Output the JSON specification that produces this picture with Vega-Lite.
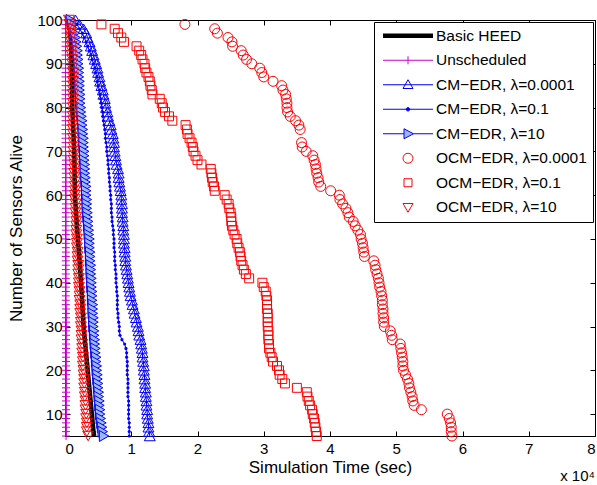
{
 "$schema": "https://vega.github.io/schema/vega-lite/v6.json",
 "width": 530, "height": 416,
 "autosize": {"type": "none"},
 "padding": {"left": 65, "top": 20, "right": 2, "bottom": 49},
 "background": "white",
 "config": {
  "font": "Liberation Sans",
  "view": {"stroke": "black", "strokeWidth": 1},
  "axis": {"grid": false, "domainColor": "black", "tickColor": "black", "labelColor": "black", "titleColor": "black", "labelFontSize": 15, "titleFontSize": 17, "titleFontWeight": "normal", "tickSize": -5, "labelFont": "Liberation Sans", "titleFont": "Liberation Sans"}
 },
 "title": {"text": "x 10⁴", "orient": "bottom", "anchor": "end", "frame": "group", "fontSize": 15, "fontWeight": "normal", "offset": -6, "color": "black", "font": "Liberation Sans"},
 "data": {"values": [
  {"s":"a","x":0.06,"y":100},{"s":"a","x":0.09,"y":95},{"s":"a","x":0.10,"y":90},{"s":"a","x":0.11,"y":80},{"s":"a","x":0.14,"y":70},{"s":"a","x":0.15,"y":60},{"s":"a","x":0.18,"y":53},{"s":"a","x":0.22,"y":45},{"s":"a","x":0.25,"y":38},{"s":"a","x":0.28,"y":30},{"s":"a","x":0.33,"y":22},{"s":"a","x":0.38,"y":14},{"s":"a","x":0.43,"y":6},{"s":"a","x":0.44,"y":5},
  {"s":"b","x":0.008,"y":100},{"s":"b","x":0.008,"y":99},{"s":"b","x":0.008,"y":98},{"s":"b","x":0.008,"y":97},{"s":"b","x":0.008,"y":96},{"s":"b","x":0.008,"y":95},{"s":"b","x":0.008,"y":94},{"s":"b","x":0.008,"y":93},{"s":"b","x":0.008,"y":92},{"s":"b","x":0.008,"y":91},{"s":"b","x":0.008,"y":90},{"s":"b","x":0.008,"y":89},{"s":"b","x":0.008,"y":88},{"s":"b","x":0.008,"y":87},{"s":"b","x":0.008,"y":86},{"s":"b","x":0.008,"y":85},{"s":"b","x":0.008,"y":84},{"s":"b","x":0.008,"y":83},{"s":"b","x":0.008,"y":82},{"s":"b","x":0.008,"y":81},{"s":"b","x":0.008,"y":80},{"s":"b","x":0.008,"y":79},{"s":"b","x":0.008,"y":78},{"s":"b","x":0.008,"y":77},{"s":"b","x":0.008,"y":76},{"s":"b","x":0.008,"y":75},{"s":"b","x":0.008,"y":74},{"s":"b","x":0.008,"y":73},{"s":"b","x":0.008,"y":72},{"s":"b","x":0.008,"y":71},{"s":"b","x":0.008,"y":70},
  {"s":"b","x":0.012,"y":69},{"s":"b","x":0.012,"y":68},{"s":"b","x":0.012,"y":67},{"s":"b","x":0.012,"y":66},{"s":"b","x":0.012,"y":65},{"s":"b","x":0.012,"y":64},{"s":"b","x":0.012,"y":63},{"s":"b","x":0.012,"y":62},{"s":"b","x":0.012,"y":61},{"s":"b","x":0.012,"y":60},{"s":"b","x":0.012,"y":59},{"s":"b","x":0.012,"y":58},{"s":"b","x":0.012,"y":57},{"s":"b","x":0.012,"y":56},{"s":"b","x":0.012,"y":55},{"s":"b","x":0.012,"y":54},{"s":"b","x":0.012,"y":53},{"s":"b","x":0.012,"y":52},{"s":"b","x":0.012,"y":51},{"s":"b","x":0.012,"y":50},{"s":"b","x":0.012,"y":49},{"s":"b","x":0.012,"y":48},{"s":"b","x":0.012,"y":47},{"s":"b","x":0.012,"y":46},{"s":"b","x":0.012,"y":45},{"s":"b","x":0.012,"y":44},{"s":"b","x":0.012,"y":43},{"s":"b","x":0.012,"y":42},{"s":"b","x":0.012,"y":41},{"s":"b","x":0.012,"y":40},{"s":"b","x":0.012,"y":39},{"s":"b","x":0.012,"y":38},{"s":"b","x":0.012,"y":37},{"s":"b","x":0.012,"y":36},{"s":"b","x":0.012,"y":35},
  {"s":"b","x":0.016,"y":34},{"s":"b","x":0.016,"y":33},{"s":"b","x":0.016,"y":32},{"s":"b","x":0.016,"y":31},{"s":"b","x":0.016,"y":30},{"s":"b","x":0.016,"y":29},{"s":"b","x":0.016,"y":28},{"s":"b","x":0.016,"y":27},{"s":"b","x":0.016,"y":26},{"s":"b","x":0.016,"y":25},{"s":"b","x":0.016,"y":24},{"s":"b","x":0.016,"y":23},{"s":"b","x":0.016,"y":22},{"s":"b","x":0.016,"y":21},{"s":"b","x":0.016,"y":20},{"s":"b","x":0.016,"y":19},{"s":"b","x":0.016,"y":18},{"s":"b","x":0.016,"y":17},{"s":"b","x":0.016,"y":16},{"s":"b","x":0.016,"y":15},{"s":"b","x":0.016,"y":14},{"s":"b","x":0.016,"y":13},{"s":"b","x":0.016,"y":12},{"s":"b","x":0.016,"y":11},{"s":"b","x":0.016,"y":10},{"s":"b","x":0.016,"y":9},{"s":"b","x":0.016,"y":8},{"s":"b","x":0.016,"y":7},{"s":"b","x":0.016,"y":6},{"s":"b","x":0.016,"y":5},
  {"s":"c","x":0.16,"y":100},{"s":"c","x":0.22,"y":99},{"s":"c","x":0.28,"y":98},{"s":"c","x":0.32,"y":97},{"s":"c","x":0.34,"y":96},{"s":"c","x":0.37,"y":95},{"s":"c","x":0.39,"y":94},{"s":"c","x":0.41,"y":93},{"s":"c","x":0.43,"y":92},{"s":"c","x":0.45,"y":91},{"s":"c","x":0.47,"y":90},{"s":"c","x":0.49,"y":89},{"s":"c","x":0.50,"y":88},{"s":"c","x":0.52,"y":87},{"s":"c","x":0.53,"y":86},{"s":"c","x":0.55,"y":85},{"s":"c","x":0.57,"y":84},{"s":"c","x":0.58,"y":83},{"s":"c","x":0.60,"y":82},{"s":"c","x":0.61,"y":81},{"s":"c","x":0.62,"y":80},{"s":"c","x":0.64,"y":79},{"s":"c","x":0.65,"y":78},{"s":"c","x":0.67,"y":77},{"s":"c","x":0.69,"y":76},{"s":"c","x":0.70,"y":75},{"s":"c","x":0.72,"y":74},{"s":"c","x":0.73,"y":73},{"s":"c","x":0.74,"y":72},{"s":"c","x":0.74,"y":71},{"s":"c","x":0.75,"y":70},{"s":"c","x":0.76,"y":69},{"s":"c","x":0.77,"y":68},{"s":"c","x":0.78,"y":67},{"s":"c","x":0.80,"y":66},{"s":"c","x":0.81,"y":65},{"s":"c","x":0.81,"y":64},{"s":"c","x":0.82,"y":63},{"s":"c","x":0.83,"y":62},{"s":"c","x":0.84,"y":61},{"s":"c","x":0.85,"y":60},{"s":"c","x":0.85,"y":59},{"s":"c","x":0.86,"y":58},{"s":"c","x":0.86,"y":57},{"s":"c","x":0.86,"y":56},{"s":"c","x":0.87,"y":55},{"s":"c","x":0.87,"y":54},{"s":"c","x":0.88,"y":53},{"s":"c","x":0.88,"y":52},{"s":"c","x":0.89,"y":51},{"s":"c","x":0.89,"y":50},{"s":"c","x":0.89,"y":49},{"s":"c","x":0.90,"y":48},{"s":"c","x":0.90,"y":47},{"s":"c","x":0.91,"y":46},{"s":"c","x":0.91,"y":45},{"s":"c","x":0.92,"y":44},{"s":"c","x":0.93,"y":43},{"s":"c","x":0.94,"y":42},{"s":"c","x":0.95,"y":41},{"s":"c","x":0.96,"y":40},{"s":"c","x":0.97,"y":39},{"s":"c","x":0.98,"y":38},{"s":"c","x":0.99,"y":37},{"s":"c","x":1.01,"y":36},{"s":"c","x":1.02,"y":35},{"s":"c","x":1.04,"y":34},{"s":"c","x":1.05,"y":33},{"s":"c","x":1.07,"y":32},{"s":"c","x":1.08,"y":31},{"s":"c","x":1.10,"y":30},{"s":"c","x":1.11,"y":29},{"s":"c","x":1.12,"y":28},{"s":"c","x":1.14,"y":27},{"s":"c","x":1.15,"y":26},{"s":"c","x":1.16,"y":25},{"s":"c","x":1.17,"y":24},{"s":"c","x":1.17,"y":23},{"s":"c","x":1.18,"y":22},{"s":"c","x":1.19,"y":21},{"s":"c","x":1.19,"y":20},{"s":"c","x":1.20,"y":19},{"s":"c","x":1.20,"y":18},{"s":"c","x":1.21,"y":17},{"s":"c","x":1.21,"y":16},{"s":"c","x":1.22,"y":15},{"s":"c","x":1.22,"y":14},{"s":"c","x":1.23,"y":13},{"s":"c","x":1.23,"y":12},{"s":"c","x":1.24,"y":11},{"s":"c","x":1.24,"y":10},{"s":"c","x":1.25,"y":9},{"s":"c","x":1.26,"y":8},{"s":"c","x":1.26,"y":7},{"s":"c","x":1.27,"y":6},{"s":"c","x":1.28,"y":5},
  {"s":"d","x":0.14,"y":100},{"s":"d","x":0.18,"y":99},{"s":"d","x":0.22,"y":98},{"s":"d","x":0.26,"y":97},{"s":"d","x":0.29,"y":96},{"s":"d","x":0.32,"y":95},{"s":"d","x":0.34,"y":94},{"s":"d","x":0.37,"y":93},{"s":"d","x":0.39,"y":92},{"s":"d","x":0.41,"y":91},{"s":"d","x":0.43,"y":90},{"s":"d","x":0.45,"y":89},{"s":"d","x":0.46,"y":88},{"s":"d","x":0.48,"y":87},{"s":"d","x":0.49,"y":86},{"s":"d","x":0.50,"y":85},{"s":"d","x":0.52,"y":84},{"s":"d","x":0.53,"y":83},{"s":"d","x":0.54,"y":82},{"s":"d","x":0.55,"y":81},{"s":"d","x":0.56,"y":80},{"s":"d","x":0.57,"y":79},{"s":"d","x":0.57,"y":78},{"s":"d","x":0.58,"y":77},{"s":"d","x":0.59,"y":76},{"s":"d","x":0.60,"y":75},{"s":"d","x":0.61,"y":74},{"s":"d","x":0.61,"y":73},{"s":"d","x":0.62,"y":72},{"s":"d","x":0.63,"y":71},{"s":"d","x":0.63,"y":70},{"s":"d","x":0.64,"y":69},{"s":"d","x":0.65,"y":68},{"s":"d","x":0.65,"y":67},{"s":"d","x":0.66,"y":66},{"s":"d","x":0.66,"y":65},{"s":"d","x":0.67,"y":64},{"s":"d","x":0.67,"y":63},{"s":"d","x":0.68,"y":62},{"s":"d","x":0.68,"y":61},{"s":"d","x":0.69,"y":60},{"s":"d","x":0.69,"y":59},{"s":"d","x":0.70,"y":58},{"s":"d","x":0.70,"y":57},{"s":"d","x":0.70,"y":56},{"s":"d","x":0.71,"y":55},{"s":"d","x":0.71,"y":54},{"s":"d","x":0.72,"y":53},{"s":"d","x":0.73,"y":52},{"s":"d","x":0.73,"y":51},{"s":"d","x":0.74,"y":50},{"s":"d","x":0.74,"y":49},{"s":"d","x":0.74,"y":48},{"s":"d","x":0.75,"y":47},{"s":"d","x":0.75,"y":46},{"s":"d","x":0.75,"y":45},{"s":"d","x":0.76,"y":44},{"s":"d","x":0.76,"y":43},{"s":"d","x":0.77,"y":42},{"s":"d","x":0.77,"y":41},{"s":"d","x":0.77,"y":40},{"s":"d","x":0.78,"y":39},{"s":"d","x":0.78,"y":38},{"s":"d","x":0.79,"y":37},{"s":"d","x":0.79,"y":36},{"s":"d","x":0.79,"y":35},{"s":"d","x":0.79,"y":34},{"s":"d","x":0.80,"y":33},{"s":"d","x":0.80,"y":32},{"s":"d","x":0.81,"y":31},{"s":"d","x":0.82,"y":30},{"s":"d","x":0.82,"y":29},{"s":"d","x":0.83,"y":28},{"s":"d","x":0.86,"y":27},{"s":"d","x":0.90,"y":26},{"s":"d","x":0.92,"y":25},{"s":"d","x":0.93,"y":24},{"s":"d","x":0.93,"y":23},{"s":"d","x":0.94,"y":22},{"s":"d","x":0.94,"y":21},{"s":"d","x":0.94,"y":20},{"s":"d","x":0.94,"y":19},{"s":"d","x":0.95,"y":18},{"s":"d","x":0.95,"y":17},{"s":"d","x":0.95,"y":16},{"s":"d","x":0.95,"y":15},{"s":"d","x":0.95,"y":14},{"s":"d","x":0.96,"y":13},{"s":"d","x":0.96,"y":12},{"s":"d","x":0.96,"y":11},{"s":"d","x":0.96,"y":10},{"s":"d","x":0.96,"y":9},{"s":"d","x":0.97,"y":8},{"s":"d","x":0.97,"y":7},{"s":"d","x":0.97,"y":6},{"s":"d","x":0.97,"y":5},
  {"s":"e","x":0.09,"y":100},{"s":"e","x":0.11,"y":99},{"s":"e","x":0.13,"y":98},{"s":"e","x":0.15,"y":97},{"s":"e","x":0.16,"y":96},{"s":"e","x":0.17,"y":95},{"s":"e","x":0.18,"y":94},{"s":"e","x":0.19,"y":93},{"s":"e","x":0.19,"y":92},{"s":"e","x":0.20,"y":91},{"s":"e","x":0.20,"y":90},{"s":"e","x":0.21,"y":89},{"s":"e","x":0.21,"y":88},{"s":"e","x":0.21,"y":87},{"s":"e","x":0.22,"y":86},{"s":"e","x":0.22,"y":85},{"s":"e","x":0.22,"y":84},{"s":"e","x":0.23,"y":83},{"s":"e","x":0.23,"y":82},{"s":"e","x":0.23,"y":81},{"s":"e","x":0.24,"y":80},{"s":"e","x":0.24,"y":79},{"s":"e","x":0.25,"y":78},{"s":"e","x":0.26,"y":77},{"s":"e","x":0.26,"y":76},{"s":"e","x":0.27,"y":75},{"s":"e","x":0.27,"y":74},{"s":"e","x":0.28,"y":73},{"s":"e","x":0.28,"y":72},{"s":"e","x":0.28,"y":71},{"s":"e","x":0.29,"y":70},{"s":"e","x":0.29,"y":69},{"s":"e","x":0.29,"y":68},{"s":"e","x":0.30,"y":67},{"s":"e","x":0.30,"y":66},{"s":"e","x":0.30,"y":65},{"s":"e","x":0.31,"y":64},{"s":"e","x":0.31,"y":63},{"s":"e","x":0.32,"y":62},{"s":"e","x":0.32,"y":61},{"s":"e","x":0.32,"y":60},{"s":"e","x":0.33,"y":59},{"s":"e","x":0.33,"y":58},{"s":"e","x":0.33,"y":57},{"s":"e","x":0.34,"y":56},{"s":"e","x":0.34,"y":55},{"s":"e","x":0.35,"y":54},{"s":"e","x":0.35,"y":53},{"s":"e","x":0.36,"y":52},{"s":"e","x":0.36,"y":51},{"s":"e","x":0.37,"y":50},{"s":"e","x":0.37,"y":49},{"s":"e","x":0.37,"y":48},{"s":"e","x":0.38,"y":47},{"s":"e","x":0.38,"y":46},{"s":"e","x":0.38,"y":45},{"s":"e","x":0.39,"y":44},{"s":"e","x":0.39,"y":43},{"s":"e","x":0.39,"y":42},{"s":"e","x":0.40,"y":41},{"s":"e","x":0.40,"y":40},{"s":"e","x":0.40,"y":39},{"s":"e","x":0.41,"y":38},{"s":"e","x":0.41,"y":37},{"s":"e","x":0.41,"y":36},{"s":"e","x":0.42,"y":35},{"s":"e","x":0.42,"y":34},{"s":"e","x":0.42,"y":33},{"s":"e","x":0.43,"y":32},{"s":"e","x":0.43,"y":31},{"s":"e","x":0.43,"y":30},{"s":"e","x":0.44,"y":29},{"s":"e","x":0.44,"y":28},{"s":"e","x":0.45,"y":27},{"s":"e","x":0.45,"y":26},{"s":"e","x":0.46,"y":25},{"s":"e","x":0.46,"y":24},{"s":"e","x":0.47,"y":23},{"s":"e","x":0.47,"y":22},{"s":"e","x":0.48,"y":21},{"s":"e","x":0.48,"y":20},{"s":"e","x":0.49,"y":19},{"s":"e","x":0.49,"y":18},{"s":"e","x":0.50,"y":17},{"s":"e","x":0.50,"y":16},{"s":"e","x":0.51,"y":15},{"s":"e","x":0.51,"y":14},{"s":"e","x":0.52,"y":13},{"s":"e","x":0.52,"y":12},{"s":"e","x":0.53,"y":11},{"s":"e","x":0.53,"y":10},{"s":"e","x":0.54,"y":9},{"s":"e","x":0.55,"y":8},{"s":"e","x":0.56,"y":7},{"s":"e","x":0.57,"y":6},{"s":"e","x":0.59,"y":5},
  {"s":"f","x":1.81,"y":99},{"s":"f","x":2.26,"y":98},{"s":"f","x":2.30,"y":97},{"s":"f","x":2.46,"y":96},{"s":"f","x":2.52,"y":95},{"s":"f","x":2.53,"y":94},{"s":"f","x":2.66,"y":93},{"s":"f","x":2.69,"y":92},{"s":"f","x":2.74,"y":91},{"s":"f","x":2.82,"y":90},{"s":"f","x":2.94,"y":89},{"s":"f","x":2.97,"y":88},{"s":"f","x":3.00,"y":87},{"s":"f","x":3.14,"y":86},{"s":"f","x":3.27,"y":85},{"s":"f","x":3.29,"y":84},{"s":"f","x":3.33,"y":83},{"s":"f","x":3.34,"y":82},{"s":"f","x":3.35,"y":81},{"s":"f","x":3.35,"y":80},{"s":"f","x":3.36,"y":79},{"s":"f","x":3.40,"y":78},{"s":"f","x":3.48,"y":77},{"s":"f","x":3.53,"y":76},{"s":"f","x":3.55,"y":75},{"s":"f","x":3.57,"y":72},{"s":"f","x":3.58,"y":71},{"s":"f","x":3.64,"y":70},{"s":"f","x":3.74,"y":69},{"s":"f","x":3.76,"y":68},{"s":"f","x":3.78,"y":67},{"s":"f","x":3.79,"y":66},{"s":"f","x":3.80,"y":65},{"s":"f","x":3.82,"y":64},{"s":"f","x":3.83,"y":63},{"s":"f","x":3.86,"y":62},{"s":"f","x":4.01,"y":61},{"s":"f","x":4.14,"y":60},{"s":"f","x":4.15,"y":59},{"s":"f","x":4.19,"y":58},{"s":"f","x":4.24,"y":57},{"s":"f","x":4.27,"y":56},{"s":"f","x":4.29,"y":55},{"s":"f","x":4.35,"y":54},{"s":"f","x":4.38,"y":53},{"s":"f","x":4.42,"y":52},{"s":"f","x":4.46,"y":51},{"s":"f","x":4.47,"y":50},{"s":"f","x":4.49,"y":49},{"s":"f","x":4.50,"y":48},{"s":"f","x":4.51,"y":47},{"s":"f","x":4.52,"y":46},{"s":"f","x":4.66,"y":45},{"s":"f","x":4.68,"y":44},{"s":"f","x":4.69,"y":43},{"s":"f","x":4.71,"y":42},{"s":"f","x":4.73,"y":41},{"s":"f","x":4.74,"y":40},{"s":"f","x":4.75,"y":39},{"s":"f","x":4.77,"y":38},{"s":"f","x":4.78,"y":37},{"s":"f","x":4.79,"y":36},{"s":"f","x":4.79,"y":35},{"s":"f","x":4.80,"y":34},{"s":"f","x":4.80,"y":33},{"s":"f","x":4.81,"y":32},{"s":"f","x":4.81,"y":31},{"s":"f","x":4.82,"y":30},{"s":"f","x":4.91,"y":29},{"s":"f","x":4.93,"y":28},{"s":"f","x":4.94,"y":27},{"s":"f","x":5.06,"y":26},{"s":"f","x":5.07,"y":25},{"s":"f","x":5.08,"y":24},{"s":"f","x":5.09,"y":23},{"s":"f","x":5.10,"y":22},{"s":"f","x":5.10,"y":21},{"s":"f","x":5.11,"y":20},{"s":"f","x":5.14,"y":19},{"s":"f","x":5.17,"y":18},{"s":"f","x":5.19,"y":17},{"s":"f","x":5.20,"y":16},{"s":"f","x":5.22,"y":15},{"s":"f","x":5.24,"y":14},{"s":"f","x":5.25,"y":13},{"s":"f","x":5.27,"y":12},{"s":"f","x":5.38,"y":11},{"s":"f","x":5.77,"y":10},{"s":"f","x":5.80,"y":9},{"s":"f","x":5.82,"y":8},{"s":"f","x":5.83,"y":7},{"s":"f","x":5.83,"y":6},{"s":"f","x":5.84,"y":5},
  {"s":"g","x":0.55,"y":99},{"s":"g","x":0.75,"y":98},{"s":"g","x":0.80,"y":97},{"s":"g","x":0.85,"y":96},{"s":"g","x":0.89,"y":95},{"s":"g","x":1.08,"y":94},{"s":"g","x":1.12,"y":93},{"s":"g","x":1.15,"y":92},{"s":"g","x":1.17,"y":91},{"s":"g","x":1.20,"y":90},{"s":"g","x":1.21,"y":89},{"s":"g","x":1.23,"y":88},{"s":"g","x":1.26,"y":87},{"s":"g","x":1.28,"y":86},{"s":"g","x":1.29,"y":85},{"s":"g","x":1.31,"y":84},{"s":"g","x":1.32,"y":83},{"s":"g","x":1.43,"y":82},{"s":"g","x":1.46,"y":81},{"s":"g","x":1.48,"y":80},{"s":"g","x":1.51,"y":79},{"s":"g","x":1.57,"y":78},{"s":"g","x":1.62,"y":77},{"s":"g","x":1.82,"y":76},{"s":"g","x":1.84,"y":75},{"s":"g","x":1.85,"y":74},{"s":"g","x":1.88,"y":73},{"s":"g","x":1.91,"y":72},{"s":"g","x":1.93,"y":71},{"s":"g","x":1.94,"y":70},{"s":"g","x":1.97,"y":69},{"s":"g","x":2.00,"y":68},{"s":"g","x":2.06,"y":67},{"s":"g","x":2.20,"y":66},{"s":"g","x":2.21,"y":65},{"s":"g","x":2.22,"y":64},{"s":"g","x":2.23,"y":63},{"s":"g","x":2.25,"y":62},{"s":"g","x":2.26,"y":61},{"s":"g","x":2.41,"y":60},{"s":"g","x":2.44,"y":59},{"s":"g","x":2.47,"y":58},{"s":"g","x":2.48,"y":57},{"s":"g","x":2.50,"y":56},{"s":"g","x":2.51,"y":55},{"s":"g","x":2.51,"y":54},{"s":"g","x":2.52,"y":53},{"s":"g","x":2.54,"y":52},{"s":"g","x":2.56,"y":51},{"s":"g","x":2.59,"y":50},{"s":"g","x":2.60,"y":49},{"s":"g","x":2.62,"y":48},{"s":"g","x":2.64,"y":47},{"s":"g","x":2.65,"y":46},{"s":"g","x":2.66,"y":45},{"s":"g","x":2.68,"y":44},{"s":"g","x":2.70,"y":43},{"s":"g","x":2.73,"y":42},{"s":"g","x":2.78,"y":41},{"s":"g","x":2.98,"y":40},{"s":"g","x":3.00,"y":39},{"s":"g","x":3.03,"y":38},{"s":"g","x":3.04,"y":37},{"s":"g","x":3.05,"y":36},{"s":"g","x":3.05,"y":35},{"s":"g","x":3.05,"y":34},{"s":"g","x":3.06,"y":33},{"s":"g","x":3.06,"y":32},{"s":"g","x":3.06,"y":31},{"s":"g","x":3.06,"y":30},{"s":"g","x":3.07,"y":29},{"s":"g","x":3.07,"y":28},{"s":"g","x":3.07,"y":27},{"s":"g","x":3.08,"y":26},{"s":"g","x":3.08,"y":25},{"s":"g","x":3.10,"y":24},{"s":"g","x":3.12,"y":23},{"s":"g","x":3.14,"y":22},{"s":"g","x":3.20,"y":21},{"s":"g","x":3.23,"y":20},{"s":"g","x":3.24,"y":19},{"s":"g","x":3.28,"y":18},{"s":"g","x":3.32,"y":17},{"s":"g","x":3.50,"y":16},{"s":"g","x":3.65,"y":15},{"s":"g","x":3.66,"y":14},{"s":"g","x":3.68,"y":13},{"s":"g","x":3.70,"y":12},{"s":"g","x":3.73,"y":11},{"s":"g","x":3.74,"y":10},{"s":"g","x":3.76,"y":9},{"s":"g","x":3.77,"y":8},{"s":"g","x":3.78,"y":7},{"s":"g","x":3.79,"y":6},{"s":"g","x":3.80,"y":5},
  {"s":"h","x":0.06,"y":100},{"s":"h","x":0.07,"y":99},{"s":"h","x":0.08,"y":98},{"s":"h","x":0.08,"y":97},{"s":"h","x":0.09,"y":96},{"s":"h","x":0.09,"y":95},{"s":"h","x":0.10,"y":94},{"s":"h","x":0.10,"y":93},{"s":"h","x":0.10,"y":92},{"s":"h","x":0.11,"y":91},{"s":"h","x":0.11,"y":90},{"s":"h","x":0.11,"y":89},{"s":"h","x":0.12,"y":88},{"s":"h","x":0.12,"y":87},{"s":"h","x":0.12,"y":86},{"s":"h","x":0.12,"y":85},{"s":"h","x":0.12,"y":84},{"s":"h","x":0.12,"y":83},{"s":"h","x":0.12,"y":82},{"s":"h","x":0.12,"y":81},{"s":"h","x":0.12,"y":80},{"s":"h","x":0.12,"y":79},{"s":"h","x":0.12,"y":78},{"s":"h","x":0.12,"y":77},{"s":"h","x":0.12,"y":76},{"s":"h","x":0.12,"y":75},{"s":"h","x":0.12,"y":74},{"s":"h","x":0.12,"y":73},{"s":"h","x":0.13,"y":72},{"s":"h","x":0.13,"y":71},{"s":"h","x":0.13,"y":70},{"s":"h","x":0.13,"y":69},{"s":"h","x":0.13,"y":68},{"s":"h","x":0.14,"y":67},{"s":"h","x":0.14,"y":66},{"s":"h","x":0.14,"y":65},{"s":"h","x":0.14,"y":64},{"s":"h","x":0.15,"y":63},{"s":"h","x":0.15,"y":62},{"s":"h","x":0.15,"y":61},{"s":"h","x":0.15,"y":60},{"s":"h","x":0.15,"y":59},{"s":"h","x":0.16,"y":58},{"s":"h","x":0.16,"y":57},{"s":"h","x":0.16,"y":56},{"s":"h","x":0.17,"y":55},{"s":"h","x":0.17,"y":54},{"s":"h","x":0.17,"y":53},{"s":"h","x":0.17,"y":52},{"s":"h","x":0.17,"y":51},{"s":"h","x":0.18,"y":50},{"s":"h","x":0.18,"y":49},{"s":"h","x":0.18,"y":48},{"s":"h","x":0.19,"y":47},{"s":"h","x":0.19,"y":46},{"s":"h","x":0.19,"y":45},{"s":"h","x":0.20,"y":44},{"s":"h","x":0.20,"y":43},{"s":"h","x":0.20,"y":42},{"s":"h","x":0.21,"y":41},{"s":"h","x":0.21,"y":40},{"s":"h","x":0.21,"y":39},{"s":"h","x":0.22,"y":38},{"s":"h","x":0.22,"y":37},{"s":"h","x":0.22,"y":36},{"s":"h","x":0.23,"y":35},{"s":"h","x":0.23,"y":34},{"s":"h","x":0.23,"y":33},{"s":"h","x":0.24,"y":32},{"s":"h","x":0.24,"y":31},{"s":"h","x":0.24,"y":30},{"s":"h","x":0.25,"y":29},{"s":"h","x":0.25,"y":28},{"s":"h","x":0.25,"y":27},{"s":"h","x":0.26,"y":26},{"s":"h","x":0.26,"y":25},{"s":"h","x":0.26,"y":24},{"s":"h","x":0.27,"y":23},{"s":"h","x":0.27,"y":22},{"s":"h","x":0.27,"y":21},{"s":"h","x":0.28,"y":20},{"s":"h","x":0.28,"y":19},{"s":"h","x":0.29,"y":18},{"s":"h","x":0.29,"y":17},{"s":"h","x":0.29,"y":16},{"s":"h","x":0.30,"y":15},{"s":"h","x":0.30,"y":14},{"s":"h","x":0.31,"y":13},{"s":"h","x":0.31,"y":12},{"s":"h","x":0.31,"y":11},{"s":"h","x":0.32,"y":10},{"s":"h","x":0.32,"y":9},{"s":"h","x":0.33,"y":8},{"s":"h","x":0.33,"y":7},{"s":"h","x":0.33,"y":6},{"s":"h","x":0.35,"y":5}
 ]},
 "layer": [
  {
   "transform": [{"filter": "datum.s == 'a'"}],
   "mark": {"type": "line", "strokeWidth": 4.5},
   "encoding": {
    "x": {"field": "x", "type": "quantitative", "scale": {"domain": [0, 8], "nice": false}, "axis": {"orient": "bottom", "values": [0,1,2,3,4,5,6,7,8], "format": "d", "title": "Simulation Time (sec)", "labelPadding": 10, "titlePadding": 3}},
    "y": {"field": "y", "type": "quantitative", "scale": {"domain": [5, 100], "nice": false, "zero": false}, "axis": {"orient": "left", "values": [10,20,30,40,50,60,70,80,90,100], "title": "Number of Sensors Alive", "labelPadding": 8, "titlePadding": 11}},
    "order": {"field": "y", "sort": "descending"},
    "color": {"field": "s", "type": "nominal",
     "scale": {"domain": ["a","b","c","d","e","f","g","h"], "range": ["black","#cc00cc","blue","blue","blue","red","red","red"]},
     "legend": {
      "orient": "top-right", "offset": 2, "title": null, "padding": 6,
      "strokeColor": "black", "fillColor": "white",
      "labelFontSize": 15.5, "labelFont": "Liberation Sans", "labelColor": "black",
      "rowPadding": 7.5, "symbolSize": 100, "labelOffset": 4,
      "labelExpr": "['Basic HEED','Unscheduled','CM−EDR, λ=0.0001','CM−EDR, λ=0.1','CM−EDR, λ=10','OCM−EDR, λ=0.0001','OCM−EDR, λ=0.1','OCM−EDR, λ=10'][indexof('abcdefgh', datum.value)]",
      "encode": {
       "symbols": {"update": {
        "shape": {"signal": "['M-1,0L1,0','M-1,0L1,0M0,-0.16L0,0.16','M-1,0L1,0M0,-0.2L0.2,0.15L-0.2,0.15Z','M-1,0L1,0M0.07,0A0.07,0.07,0,1,1,-0.07,0A0.07,0.07,0,1,1,0.07,0Z','M-1,0L-0.16,0M0.22,0L1,0M-0.16,-0.2L0.22,0L-0.16,0.2Z','M0.2,0A0.2,0.2,0,1,1,-0.2,0A0.2,0.2,0,1,1,0.2,0Z','M-0.16,-0.16L0.16,-0.16L0.16,0.16L-0.16,0.16Z','M-0.2,-0.15L0.2,-0.15L0,0.2Z'][indexof('abcdefgh', datum.value)]"},
        "size": {"value": 2500},
        "x": {"value": 28},
        "stroke": {"signal": "['black','#cc00cc','blue','blue','blue','red','red','red'][indexof('abcdefgh', datum.value)]"},
        "fill": {"signal": "['transparent','transparent','transparent','blue','#9db9f5','transparent','transparent','transparent'][indexof('abcdefgh', datum.value)]"},
        "strokeWidth": {"signal": "datum.value == 'a' ? 4.5 : 1"},
        "opacity": {"value": 1},
        "fillOpacity": {"value": 1},
        "strokeOpacity": {"value": 1}
       }},
       "labels": {"update": {"x": {"value": 56}}}
      }
     }
    }
   }
  },
  {
   "transform": [{"filter": "datum.s >= 'b' && datum.s <= 'e'"}],
   "mark": {"type": "line", "strokeWidth": 1},
   "encoding": {
    "x": {"field": "x", "type": "quantitative", "axis": null},
    "y": {"field": "y", "type": "quantitative", "axis": null},
    "order": {"field": "y", "sort": "descending"},
    "color": {"field": "s", "type": "nominal"}
   }
  },
  {
   "transform": [{"filter": "datum.s != 'a'"}],
   "mark": {"type": "point", "strokeWidth": 1, "opacity": 1},
   "encoding": {
    "x": {"field": "x", "type": "quantitative", "axis": {"orient": "top", "values": [0,1,2,3,4,5,6,7,8], "labels": false, "title": null, "domain": false}},
    "y": {"field": "y", "type": "quantitative", "axis": {"orient": "right", "values": [10,20,30,40,50,60,70,80,90,100], "labels": false, "title": null, "domain": false}},
    "shape": {"field": "s", "type": "nominal", "scale": {"domain": ["b","c","d","e","f","g","h"], "range": ["M-1,0L1,0M0,-1L0,1","triangle-up","circle","triangle-right","circle","square","triangle-down"]}, "legend": null},
    "size": {"field": "s", "type": "nominal", "scale": {"type": "ordinal", "domain": ["b","c","d","e","f","g","h"], "range": [64, 120, 10, 120, 100, 80, 120]}, "legend": null},
    "stroke": {"field": "s", "type": "nominal", "scale": {"domain": ["b","c","d","e","f","g","h"], "range": ["#cc00cc","blue","transparent","blue","red","red","red"]}, "legend": null},
    "fill": {"field": "s", "type": "nominal", "scale": {"domain": ["b","c","d","e","f","g","h"], "range": ["transparent","transparent","blue","#9db9f5","transparent","transparent","transparent"]}, "legend": null}
   }
  }
 ],
 "resolve": {"axis": {"x": "independent", "y": "independent"}}
}
